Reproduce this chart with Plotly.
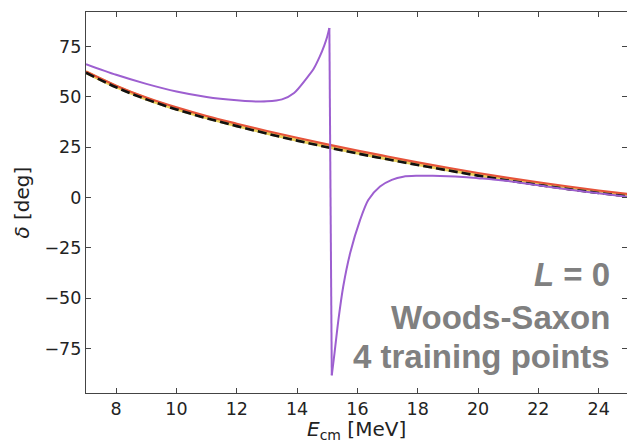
import plotly.graph_objects as go

# ---- data ----
E_ref = [7, 8, 9, 10, 11, 12, 13, 14, 15, 16, 17, 18, 19, 20, 21, 22, 23, 24, 25]
delta_exact = [62.0, 54.8, 48.8, 43.8, 39.4, 35.5, 31.8, 28.3, 25.0, 21.9, 19.0, 16.2, 13.5, 10.9, 8.5, 6.3, 4.2, 2.3, 0.5]
delta_yellow = [62.3, 55.1, 49.1, 44.1, 39.7, 35.8, 32.1, 28.6, 25.3, 22.2, 19.3, 16.5, 13.8, 11.2, 8.8, 6.6, 4.5, 2.6, 0.8]
delta_red = [62.6, 55.6, 49.7, 44.8, 40.5, 36.7, 33.1, 29.7, 26.4, 23.3, 20.4, 17.5, 14.8, 12.2, 9.8, 7.6, 5.5, 3.5, 1.7]

E_purple = [7, 8, 9, 10, 11, 12, 12.5, 13, 13.5, 13.9, 14.3, 14.55, 14.75, 14.9, 15.0, 15.07,
            15.15, 15.24, 15.37, 15.53, 15.76, 16.09, 16.36, 16.75, 17.14, 17.52,
            18, 18.5, 19, 19.5, 20, 20.5, 21, 22, 23, 24, 25]
delta_purple = [66.3, 61.0, 56.5, 52.7, 50.0, 48.3, 47.8, 47.8, 48.8, 52.0, 59.0, 64.0, 70.0, 75.5, 80.0, 84.2,
                -88.3, -77.4, -60.8, -44.2, -27.6, -11.1, -1.2, 5.5, 8.8, 10.4,
                10.8, 10.8, 10.6, 10.2, 9.6, 9.0, 8.2, 6.1, 4.0, 2.1, 0.3]

x_ticks = [8, 10, 12, 14, 16, 18, 20, 22, 24]
y_ticks = [-75, -50, -25, 0, 25, 50, 75]

PURPLE = "#9d5fd0"
# index of the resonance jump (peak just before the phase wraps)
jump = delta_purple.index(max(delta_purple))

fig = go.Figure()
fig.add_trace(go.Scatter(x=E_ref, y=delta_yellow, mode="lines",
                         line=dict(color="#e8cf5a", width=3.5, shape="spline"), showlegend=False))
fig.add_trace(go.Scatter(x=E_ref, y=delta_red, mode="lines",
                         line=dict(color="#e6533a", width=2.2, shape="spline"), showlegend=False))
fig.add_trace(go.Scatter(x=E_ref, y=delta_exact, mode="lines",
                         line=dict(color="#111111", width=2.6, dash="9px,4px", shape="spline"), showlegend=False))
# purple emulator curve: smooth branches on each side of the phase jump, straight drop between
fig.add_trace(go.Scatter(x=E_purple[:jump + 1], y=delta_purple[:jump + 1], mode="lines",
                         line=dict(color=PURPLE, width=2.0, shape="spline", smoothing=0.8), showlegend=False))
fig.add_trace(go.Scatter(x=E_purple[jump:jump + 2], y=delta_purple[jump:jump + 2], mode="lines",
                         line=dict(color=PURPLE, width=2.0), showlegend=False))
fig.add_trace(go.Scatter(x=E_purple[jump + 1:], y=delta_purple[jump + 1:], mode="lines",
                         line=dict(color=PURPLE, width=2.0, shape="spline", smoothing=0.8), showlegend=False))

ann_font = dict(family="Liberation Sans, Arial, sans-serif", size=33, color="#808080")
for txt, yv in [("<b><i>L</i> = 0</b>", -38.2), ("<b>Woods-Saxon</b>", -59.6), ("<b>4 training points</b>", -79.0)]:
    fig.add_annotation(x=24.45, y=yv, xref="x", yref="y", text=txt, showarrow=False,
                       xanchor="right", yanchor="middle", font=ann_font)

title_font = dict(family="DejaVu Sans", size=20, color="#222222")
# axis titles placed as annotations for exact positioning
fig.add_annotation(x=0.5, y=-0.096, xref="paper", yref="paper", text="<i>E</i><sub>cm</sub> [MeV]",
                   showarrow=False, xanchor="center", yanchor="middle", font=title_font)
fig.add_annotation(x=-0.12, y=0.5, xref="paper", yref="paper", text="<i>δ</i> [deg]", textangle=-90,
                   showarrow=False, xanchor="center", yanchor="middle", font=title_font)

axis_common = dict(showgrid=False, zeroline=False, showline=True, linecolor="#444444", linewidth=1.2,
                   mirror="ticks", ticks="inside", ticklen=5, tickwidth=1, tickcolor="#444444",
                   automargin=False,
                   tickfont=dict(family="DejaVu Sans", size=17.5, color="#222222"))

fig.update_xaxes(range=[7, 24.94], tickvals=x_ticks, ticktext=[str(v) for v in x_ticks], **axis_common)
fig.update_yaxes(range=[-97.1, 92.2], tickvals=y_ticks,
                 ticktext=["\u221275", "\u221250", "\u221225", "0", "25", "50", "75"], **axis_common)

fig.update_layout(width=627, height=441, margin=dict(l=86, r=0, t=12, b=48),
                  plot_bgcolor="white", paper_bgcolor="white")

fig.write_html("out.html", config={"displayModeBar": False},
               post_script="document.body.style.margin='0px';document.body.style.overflow='hidden';")
